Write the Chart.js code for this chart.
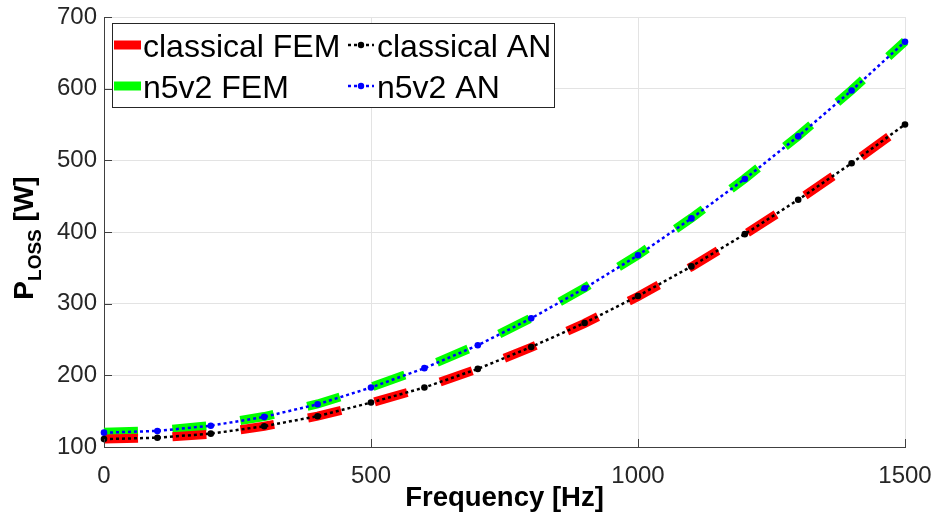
<!DOCTYPE html>
<html>
<head>
<meta charset="utf-8">
<script src="https://cdn.jsdelivr.net/npm/chart.js@4"></script>
<style>
  html, body { margin: 0; padding: 0; background: #fff; }
  #wrap { width: 938px; height: 515px; }
</style>
</head>
<body>
<div id="wrap"><canvas id="chart" width="938" height="515"></canvas></div>
<script>
// data ----------------------
const freq = [0, 100, 200, 300, 400, 500, 600, 700, 800, 900, 1000, 1100, 1200, 1300, 1400, 1500];
const classicalFEM = [111, 113, 118, 129, 143, 161.5, 183, 209, 239, 272.5, 310, 351.5, 396.5, 444.5, 495.5, 549.5];
const classicalAN = [111, 113, 118.6, 129, 143, 162, 183, 209, 239.5, 273, 310.7, 352, 397, 445, 496, 550];
const n5v2FEM = [120.5, 123, 130, 142.5, 160, 183.5, 210.5, 242.5, 280, 322, 368, 419.5, 474.5, 534, 598, 666];
const n5v2AN = [120, 122.4, 129.7, 142, 159.6, 183, 210, 242, 279.5, 321.5, 367.5, 419, 474, 533.5, 597.5, 665.5];
const xTicks = [0, 500, 1000, 1500];
const yTicks = [100, 200, 300, 400, 500, 600, 700];

const FONT = "'Liberation Sans', Arial, Helvetica, sans-serif";
const AXIS_COLOR = '#404040';

const toPoints = vals => freq.map((f, i) => ({ x: f, y: vals[i] }));

const femStyle = color => ({
  borderColor: color,
  backgroundColor: color,
  borderWidth: 9,
  borderDash: [34, 34.5],
  borderCapStyle: 'butt',
  pointRadius: 0,
  tension: 0,
  clip: false,
  order: 1,
});

const anStyle = color => ({
  borderColor: color,
  backgroundColor: color,
  borderWidth: 2.5,
  borderDash: [3, 3],
  borderCapStyle: 'butt',
  pointRadius: 3.3,
  pointBorderWidth: 0,
  pointBackgroundColor: color,
  tension: 0,
  clip: false,
  order: 0,
});

// plugin: inward ticks, axis titles, legend box
const decorations = {
  id: 'decorations',
  afterDraw(chart) {
    const { ctx, chartArea: area, scales } = chart;
    ctx.save();

    // inward tick marks
    ctx.strokeStyle = AXIS_COLOR;
    ctx.lineWidth = 1;
    ctx.beginPath();
    yTicks.forEach(v => {
      const y = Math.round(scales.y.getPixelForValue(v)) + 0.5;
      ctx.moveTo(area.left, y);
      ctx.lineTo(area.left + 8, y);
    });
    xTicks.forEach(v => {
      const x = Math.round(scales.x.getPixelForValue(v)) + 0.5;
      ctx.moveTo(x, area.bottom);
      ctx.lineTo(x, area.bottom - 8);
    });
    ctx.stroke();

    // x title
    ctx.fillStyle = '#000';
    ctx.font = `bold 27.5px ${FONT}`;
    ctx.textAlign = 'center';
    ctx.textBaseline = 'alphabetic';
    ctx.fillText('Frequency [Hz]', (area.left + area.right) / 2, 506);

    // y title with subscript
    ctx.save();
    ctx.translate(33, 238);
    ctx.rotate(-Math.PI / 2);
    ctx.textAlign = 'left';
    const big = `bold 28px ${FONT}`;
    const small = `bold 19px ${FONT}`;
    ctx.font = big;
    const wP = ctx.measureText('P').width;
    ctx.font = small;
    const wSub = ctx.measureText('LOSS').width;
    ctx.font = big;
    const wRest = ctx.measureText(' [W]').width;
    let x0 = -(wP + wSub + wRest) / 2;
    ctx.fillText('P', x0, 0);
    ctx.font = small;
    ctx.fillText('LOSS', x0 + wP, 8);
    ctx.font = big;
    ctx.fillText(' [W]', x0 + wP + wSub, 0);
    ctx.restore();

    // legend
    const box = { x: 112, y: 23, w: 442, h: 84 };
    ctx.fillStyle = '#fff';
    ctx.fillRect(box.x, box.y, box.w, box.h);
    ctx.strokeStyle = '#262626';
    ctx.lineWidth = 1;
    ctx.strokeRect(box.x + 0.5, box.y + 0.5, box.w, box.h);

    const cols = [{ lx: 114, len: 27, tx: 143 }, { lx: 348, len: 26, tx: 377 }];
    const rows = [{ line: 45, text: 57 }, { line: 86, text: 98 }];
    const entries = [
      { ds: 0, col: 0, row: 0 },
      { ds: 1, col: 1, row: 0 },
      { ds: 2, col: 0, row: 1 },
      { ds: 3, col: 1, row: 1 },
    ];
    ctx.font = `32px ${FONT}`;
    ctx.textAlign = 'left';
    ctx.textBaseline = 'alphabetic';
    entries.forEach(({ ds, col, row }) => {
      const d = chart.data.datasets[ds];
      const c = cols[col];
      const r = rows[row];
      ctx.save();
      ctx.strokeStyle = d.borderColor;
      if (d.pointRadius > 0) {
        ctx.lineWidth = 2.5;
        ctx.setLineDash([3, 3]);
      } else {
        ctx.lineWidth = 9;
      }
      ctx.beginPath();
      ctx.moveTo(c.lx, r.line);
      ctx.lineTo(c.lx + c.len, r.line);
      ctx.stroke();
      if (d.pointRadius > 0) {
        ctx.fillStyle = d.borderColor;
        ctx.beginPath();
        ctx.arc(c.lx + c.len / 2, r.line, 3.2, 0, Math.PI * 2);
        ctx.fill();
      }
      ctx.restore();
      ctx.fillStyle = '#000';
      ctx.fillText(d.label, c.tx, r.text);
    });

    ctx.restore();
  },
};

new Chart(document.getElementById('chart'), {
  type: 'line',
  data: {
    datasets: [
      { label: 'classical FEM', data: toPoints(classicalFEM), ...femStyle('#ff0000') },
      { label: 'classical AN', data: toPoints(classicalAN), ...anStyle('#000000') },
      { label: 'n5v2 FEM', data: toPoints(n5v2FEM), ...femStyle('#00ff00') },
      { label: 'n5v2 AN', data: toPoints(n5v2AN), ...anStyle('#0000ff') },
    ],
  },
  options: {
    responsive: false,
    devicePixelRatio: 1,
    animation: false,
    layout: { padding: { left: 0, right: 33, top: 17, bottom: 0 } },
    plugins: {
      legend: { display: false },
      tooltip: { enabled: false },
    },
    scales: {
      x: {
        type: 'linear',
        min: 0,
        max: 1500,
        afterFit(scale) {
          scale.height = 68;
          scale.paddingLeft = 0;
          scale.paddingRight = 0;
        },
        afterBuildTicks(scale) { scale.ticks = xTicks.map(v => ({ value: v })); },
        grid: { color: '#e3e3e3', lineWidth: 1, drawTicks: false },
        border: { display: true, color: AXIS_COLOR, width: 1 },
        ticks: {
          padding: 15,
          maxRotation: 0,
          color: '#262626',
          font: { family: FONT, size: 24 },
          callback: v => String(v),
        },
      },
      y: {
        type: 'linear',
        min: 100,
        max: 700,
        afterFit(scale) {
          scale.width = 104;
          scale.paddingTop = 0;
          scale.paddingBottom = 0;
        },
        afterBuildTicks(scale) { scale.ticks = yTicks.map(v => ({ value: v })); },
        grid: { color: '#e3e3e3', lineWidth: 1, drawTicks: false },
        border: { display: true, color: AXIS_COLOR, width: 1 },
        ticks: {
          padding: 7,
          color: '#262626',
          font: { family: FONT, size: 24 },
          callback: v => String(v),
        },
      },
    },
  },
  plugins: [decorations],
});
</script>
</body>
</html>
